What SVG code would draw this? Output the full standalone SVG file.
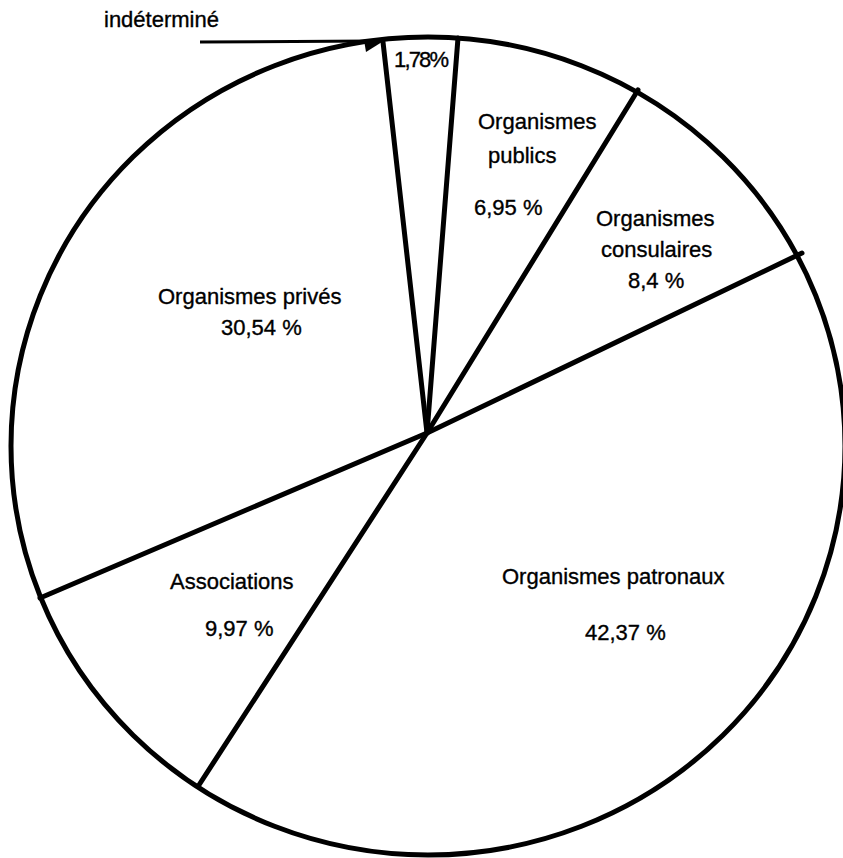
<svg xmlns="http://www.w3.org/2000/svg" width="843" height="858" viewBox="0 0 843 858">
<style>
.t{font-family:"Liberation Sans",Arial,sans-serif;font-size:22px;fill:#000;stroke:#000;stroke-width:0.35}
.s{stroke:#000;stroke-width:5;fill:none;stroke-linecap:round}
</style>
<rect width="843" height="858" fill="#fff"/>
<g id="pie">
<ellipse cx="428" cy="446" rx="417" ry="409" fill="none" stroke="#000" stroke-width="5"/>
</g>
<g id="connectors">
<line class="s" x1="427" y1="433" x2="383" y2="42"/>
<line class="s" x1="427" y1="433" x2="458" y2="38"/>
<line class="s" x1="427" y1="433" x2="638" y2="90"/>
<line class="s" x1="427" y1="433" x2="802" y2="253"/>
<line class="s" x1="427" y1="433" x2="199" y2="785"/>
<line class="s" x1="427" y1="433" x2="40" y2="598"/>
<line stroke="#000" stroke-width="3" x1="200" y1="42" x2="372" y2="41"/>
<polygon points="364,40 390,37 366,52" fill="#000"/>
</g>
<g id="label-indetermine"><text class="t" x="104" y="27" font-size="20">indéterminé</text></g>
<g id="label-178"><text class="t" x="394" y="67" font-size="18" textLength="55">1,78%</text></g>
<g id="label-publics">
<text class="t" x="478" y="129">Organismes</text>
<text class="t" x="488" y="163">publics</text>
<text class="t" x="474" y="215">6,95 %</text>
</g>
<g id="label-consulaires">
<text class="t" x="596" y="226">Organismes</text>
<text class="t" x="601" y="257">consulaires</text>
<text class="t" x="628" y="288">8,4 %</text>
</g>
<g id="label-prives">
<text class="t" x="158" y="304">Organismes privés</text>
<text class="t" x="221" y="335">30,54 %</text>
</g>
<g id="label-patronaux">
<text class="t" x="502" y="584">Organismes patronaux</text>
<text class="t" x="585" y="640">42,37 %</text>
</g>
<g id="label-associations">
<text class="t" x="170" y="589">Associations</text>
<text class="t" x="205" y="636">9,97 %</text>
</g>
</svg>
